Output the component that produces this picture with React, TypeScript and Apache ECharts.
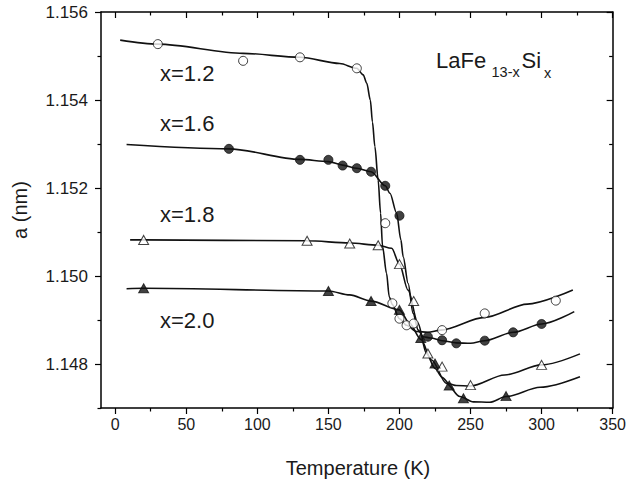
import React, { useEffect, useRef } from "react";
import * as echarts from "echarts";

const FONT = "'Liberation Sans', Arial, Helvetica, sans-serif";

// Tick values
const xMajorTicks = [0, 50, 100, 150, 200, 250, 300, 350];
const xMinorTicks = [25, 75, 125, 175, 225, 275, 325];
const yMajorTicks = [1.148, 1.15, 1.152, 1.154, 1.156];
const yMinorTicks = [1.147, 1.149, 1.151, 1.153, 1.155];

// Measured points
const circles12 = [[30, 1.15527], [90, 1.15489], [130, 1.15497], [170, 1.15472], [190, 1.1512], [195, 1.14938], [200, 1.14903], [205, 1.14888], [210, 1.14892], [230, 1.14877], [260, 1.14915], [310, 1.14944]];
const dots16 = [[80, 1.15289], [130, 1.15264], [150, 1.15264], [160, 1.15251], [170, 1.15245], [180, 1.15237], [190, 1.15205], [200, 1.15137], [220, 1.14862], [230, 1.14854], [240, 1.14847], [260, 1.14853], [280, 1.14872], [300, 1.14891]];
const tri18 = [[20, 1.15082], [135, 1.1508], [165, 1.15074], [185, 1.1507], [200, 1.15027], [210, 1.14943], [220, 1.14824], [230, 1.14794], [250, 1.14752], [300, 1.14798]];
const tri20 = [[20, 1.14972], [150, 1.14966], [180, 1.14943], [200, 1.14923], [215, 1.14859], [225, 1.14801], [235, 1.14751], [245, 1.14722], [275, 1.14727]];

// Fitted curves
const curve12 = [[3.5, 1.15536], [30, 1.15527], [90, 1.15506], [130, 1.15497], [158, 1.15483], [170, 1.15472], [174.5, 1.15457], [177, 1.15438], [179.5, 1.154], [181, 1.1535], [182.7, 1.15294], [185, 1.15218], [186.7, 1.15143], [188.1, 1.15067], [190.9, 1.15006], [192.8, 1.14953], [195, 1.14935], [200, 1.14903], [205, 1.14888], [212, 1.14874], [220, 1.14872], [229, 1.14877], [260, 1.14906], [290, 1.14936], [322, 1.14968]];
const curve16 = [[8, 1.15299], [80, 1.15289], [130, 1.15265], [150, 1.1526], [160, 1.15252], [170, 1.15245], [180, 1.15237], [190, 1.15205], [193.3, 1.15188], [198, 1.15143], [201, 1.15082], [202.6, 1.15044], [206.1, 1.14983], [209.6, 1.14915], [213.2, 1.14877], [216.7, 1.14862], [222, 1.14859], [230, 1.14853], [240, 1.14848], [250, 1.14847], [260, 1.14853], [280, 1.14872], [300, 1.14891], [323, 1.14919]];
const curve18 = [[10.5, 1.15082], [20, 1.15082], [135, 1.1508], [165, 1.15075], [185, 1.1507], [194.5, 1.15063], [200, 1.15027], [206, 1.14968], [213, 1.14893], [219, 1.14824], [225, 1.1479], [230, 1.1477], [235, 1.14755], [240, 1.14751], [250, 1.1475], [274, 1.14775], [300, 1.14798], [327, 1.14823]];
const curve20 = [[8, 1.14971], [20, 1.14972], [150, 1.14966], [165, 1.14957], [180, 1.14943], [200, 1.14923], [207, 1.14893], [215, 1.14856], [222.6, 1.14809], [233, 1.14756], [242.5, 1.14726], [252, 1.14714], [263.5, 1.14713], [275, 1.14726], [299, 1.14747], [327, 1.14771]];

const seriesLabels = ["x=1.2", "x=1.6", "x=1.8", "x=2.0"];

export default function App() {
  const ref = useRef<HTMLDivElement>(null);
  useEffect(() => {
    document.body.style.margin = "0";
    const chart = echarts.init(ref.current!, null, { renderer: "svg" });
    const axisLine = { show: true, onZero: false, lineStyle: { color: "#000", width: 1.5 } };
    const noLine = { show: false, onZero: false };
    const tickStyle = { color: "#000", width: 1.2 };
    const xBase = { type: "value", min: -10, max: 350, splitLine: { show: false } };
    const yBase = { type: "value", min: 1.147, max: 1.156, splitLine: { show: false } };
    const curveSeries = (data: number[][]) => ({
      type: "line",
      data,
      showSymbol: false,
      smooth: 0.3,
      smoothMonotone: "x",
      lineStyle: { color: "#111", width: 1.6 },
      z: 2,
      silent: true,
    });
    const pointSeries = (data: number[][], symbol: string, size: any, filled: boolean) => ({
      type: "scatter",
      data,
      symbol,
      symbolSize: size,
      itemStyle: { color: filled ? "#111" : "#fff", borderColor: "#111", borderWidth: 1 },
      z: 5,
      silent: true,
    });
    const labelY = [73.7, 123.3, 214.2, 320];
    chart.setOption({
      animation: false,
      grid: { left: 101, top: 12, width: 512, height: 396 },
      xAxis: [
        { ...xBase, position: "bottom", axisLine, axisTick: { show: true, length: 6, customValues: xMajorTicks, lineStyle: tickStyle }, axisLabel: { customValues: xMajorTicks, fontSize: 16, color: "#1a1a1a", fontFamily: FONT, margin: 8 } },
        { ...xBase, position: "bottom", axisLine: noLine, axisTick: { show: true, length: 3.5, customValues: xMinorTicks, lineStyle: tickStyle }, axisLabel: { show: false } },
        { ...xBase, position: "top", axisLine, axisTick: { show: true, inside: true, length: 6, customValues: xMajorTicks, lineStyle: tickStyle }, axisLabel: { show: false } },
        { ...xBase, position: "top", axisLine: noLine, axisTick: { show: true, inside: true, length: 3.5, customValues: xMinorTicks, lineStyle: tickStyle }, axisLabel: { show: false } },
      ],
      yAxis: [
        { ...yBase, position: "left", axisLine, axisTick: { show: true, length: 6, customValues: yMajorTicks, lineStyle: tickStyle }, axisLabel: { customValues: yMajorTicks, fontSize: 17, color: "#1a1a1a", fontFamily: FONT, margin: 13, formatter: (v: number) => v.toFixed(3) } },
        { ...yBase, position: "left", axisLine: noLine, axisTick: { show: true, length: 3.5, customValues: yMinorTicks, lineStyle: tickStyle }, axisLabel: { show: false } },
        { ...yBase, position: "right", axisLine, axisTick: { show: true, inside: true, length: 6, customValues: yMajorTicks, lineStyle: tickStyle }, axisLabel: { show: false } },
        { ...yBase, position: "right", axisLine: noLine, axisTick: { show: true, inside: true, length: 3.5, customValues: yMinorTicks, lineStyle: tickStyle }, axisLabel: { show: false } },
      ],
      series: [
        curveSeries(curve12),
        curveSeries(curve16),
        curveSeries(curve18),
        curveSeries(curve20),
        pointSeries(circles12, "circle", 9, false),
        pointSeries(dots16, "circle", 9, true),
        pointSeries(tri18, "triangle", [10, 9], false),
        pointSeries(tri20, "triangle", [10, 9], true),
      ],
      graphic: [
        ...seriesLabels.map((t, i) => ({
          type: "text",
          x: 160,
          y: labelY[i],
          style: { text: t, fontSize: 22, fontFamily: FONT, fill: "#1a1a1a", align: "left", verticalAlign: "middle" },
        })),
        { type: "text", x: 436, y: 60, style: { text: "LaFe", fontSize: 22, fontFamily: FONT, fill: "#1a1a1a", align: "left", verticalAlign: "middle" } },
        { type: "text", x: 491.5, y: 72.3, style: { text: "13-x", fontSize: 14.5, fontFamily: FONT, fill: "#1a1a1a", align: "left", verticalAlign: "middle" } },
        { type: "text", x: 521.5, y: 60, style: { text: "Si", fontSize: 22, fontFamily: FONT, fill: "#1a1a1a", align: "left", verticalAlign: "middle" } },
        { type: "text", x: 544, y: 73, style: { text: "x", fontSize: 14.5, fontFamily: FONT, fill: "#1a1a1a", align: "left", verticalAlign: "middle" } },
        { type: "text", x: 358, y: 468, style: { text: "Temperature (K)", fontSize: 20, fontFamily: FONT, fill: "#1a1a1a", align: "center", verticalAlign: "middle" } },
        { type: "text", x: 20, y: 210, rotation: Math.PI / 2, style: { text: "a (nm)", fontSize: 20, fontFamily: FONT, fill: "#1a1a1a", align: "center", verticalAlign: "middle" } },
      ],
    });
    return () => chart.dispose();
  }, []);
  return <div ref={ref} style={{ width: 629, height: 479 }} />;
}
